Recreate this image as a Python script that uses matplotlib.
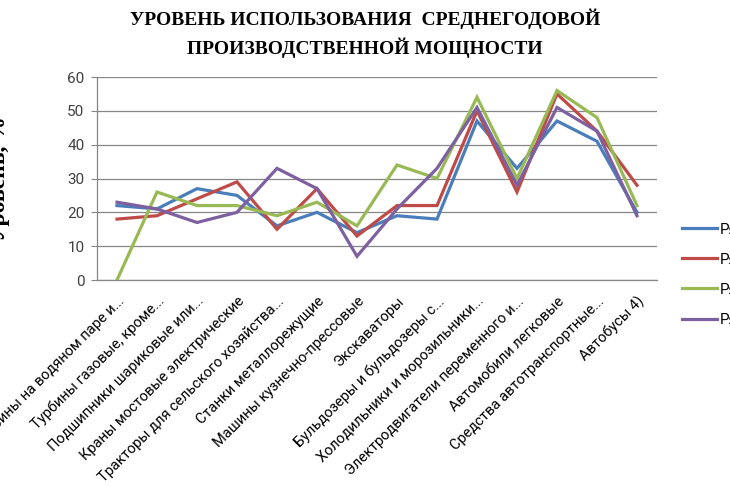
import matplotlib.pyplot as plt
import numpy as np

categories = [
    "Турбины на водяном паре и...",
    "Турбины газовые, кроме...",
    "Подшипники шариковые или...",
    "Краны мостовые электрические",
    "Тракторы для сельского хозяйства...",
    "Станки металлорежущие",
    "Машины кузнечно-прессовые",
    "Экскаваторы",
    "Бульдозеры и бульдозеры с...",
    "Холодильники и морозильники...",
    "Электродвигатели переменного и...",
    "Автомобили легковые",
    "Средства автотранспортные...",
    "Автобусы 4)",
]
series_names = ["Ряд1", "Ряд2", "Ряд3", "Ряд4"]
row1 = [22, 21, 27, 25, 16, 20, 14, 19, 18, 47, 33, 47, 41, 20]
row2 = [18, 19, 24, 29, 15, 27, 13, 22, 22, 50, 26, 55, 44, 28]
row3 = [0, 26, 22, 22, 19, 23, 16, 34, 30, 54, 30, 56, 48, 22]
row4 = [23, 21, 17, 20, 33, 27, 7, 21, 33, 51, 28, 51, 44, 19]
colors = ["#4A7EBB", "#BE4B48", "#98B954", "#7D60A0"]

sans = ["Roboto", "DejaVu Sans"]
serif = ["Liberation Serif", "DejaVu Serif"]

fig = plt.figure(figsize=(7.3, 4.86), dpi=100)
ax = fig.add_axes([97 / 730, 1 - 280 / 486, 560 / 730, 203 / 486])

x = np.arange(len(categories))
for vals, name, c in zip([row1, row2, row3, row4], series_names, colors):
    ax.plot(x, vals, color=c, lw=2.3, label=name, solid_joinstyle="miter")

ax.set_xlim(-0.5, len(categories) - 0.5)
ax.set_ylim(0, 60)
ax.set_yticks(range(0, 61, 10))
ax.yaxis.grid(True, color="#868686", lw=0.9)
ax.set_axisbelow(True)
for s in ["top", "right"]:
    ax.spines[s].set_visible(False)
for s in ["left", "bottom"]:
    ax.spines[s].set_color("#868686")
    ax.spines[s].set_linewidth(0.9)
ax.tick_params(axis="y", length=4, color="#868686", labelsize=11, pad=5)
ax.tick_params(axis="x", length=0, pad=10)
for lab in ax.get_yticklabels():
    lab.set_family(sans)
    lab.set_color("#404040")

ax.set_xticks(x)
ax.set_xticklabels(categories, rotation=45, ha="right", va="top",
                   rotation_mode="anchor", fontsize=10.5, family=sans)

fig.text(0.5, 0.983, "УРОВЕНЬ ИСПОЛЬЗОВАНИЯ  СРЕДНЕГОДОВОЙ\nПРОИЗВОДСТВЕННОЙ МОЩНОСТИ",
         ha="center", va="top", fontsize=14, fontweight="bold", family=serif,
         linespacing=1.5)
fig.text(10 / 730, 0.632, "Уровень, %", rotation=90, ha="right", va="center",
         fontsize=17, fontweight="bold", family=serif)

fig.legend(loc="upper left", bbox_to_anchor=(668 / 730, 1 - 209 / 486),
           frameon=False, prop={"family": sans, "size": 11},
           handlelength=2.3, handletextpad=0.2, labelspacing=1.05)

fig.savefig("out.png", dpi=100)
